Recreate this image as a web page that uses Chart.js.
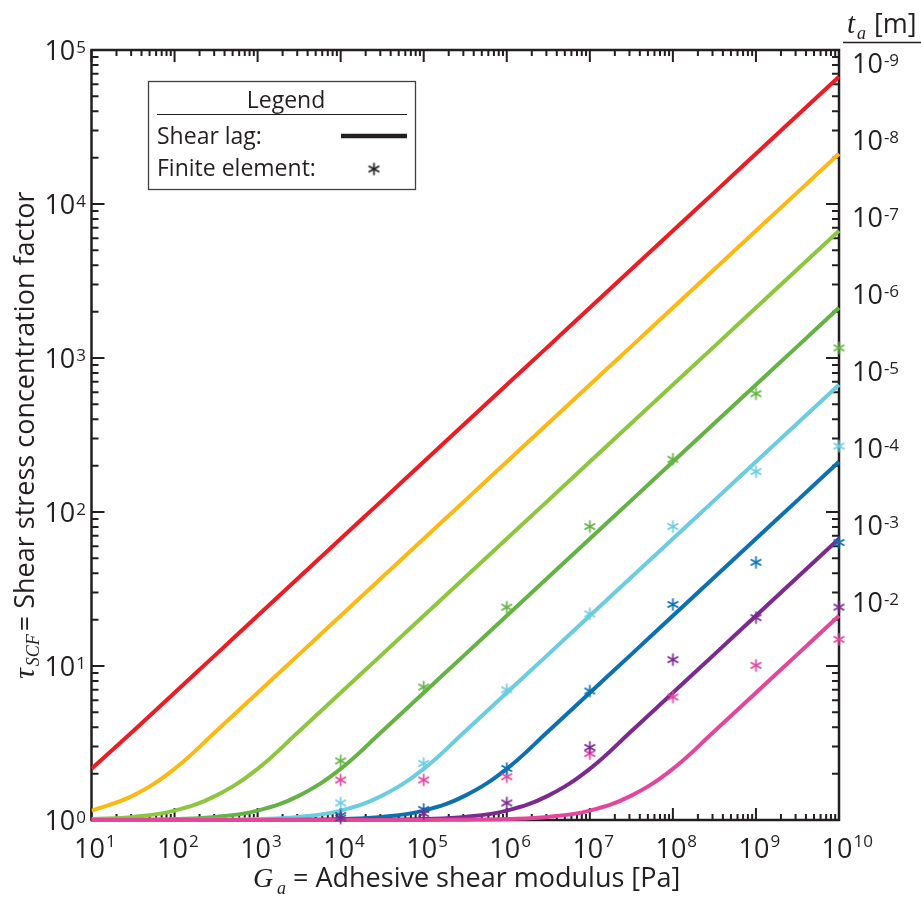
<!DOCTYPE html>
<html>
<head>
<meta charset="utf-8">
<title>Shear stress concentration factor</title>
<script src="https://cdn.jsdelivr.net/npm/chart.js@4.4.1/dist/chart.umd.min.js"></script>
<style>
  html, body { margin: 0; padding: 0; background: #fff; }
  #scf { display: block; }
</style>
</head>
<body>
<canvas id="scf" width="921" height="897"></canvas>
<script>
// --- data ---------------------------------------------------------------

// adhesive shear modulus G_a [Pa], half-decade steps (last point runs just past 1e10)
const gA = [1e1, 3.16e1, 1e2, 3.16e2, 1e3, 3.16e3, 1e4, 3.16e4, 1e5, 3.16e5,
            1e6, 3.16e6, 1e7, 3.16e7, 1e8, 3.16e8, 1e9, 3.16e9, 1e10, 1.2e10];

// shear lag curves, one per adhesive thickness t_a
const slT9 = [2.15, 3.77, 6.7, 11.9, 21.2, 37.7, 67, 119, 212, 377, 670, 1190, 2120, 3770, 6700, 11900, 21200, 37700, 67000, 73400];
const slT8 = [1.15, 1.44, 2.15, 3.77, 6.7, 11.9, 21.2, 37.7, 67, 119, 212, 377, 670, 1190, 2120, 3770, 6700, 11900, 21200, 23200];
const slT7 = [1.015, 1.047, 1.15, 1.44, 2.15, 3.77, 6.7, 11.9, 21.2, 37.7, 67, 119, 212, 377, 670, 1190, 2120, 3770, 6700, 7340];
const slT6 = [1.0015, 1.005, 1.015, 1.047, 1.15, 1.44, 2.15, 3.77, 6.7, 11.9, 21.2, 37.7, 67, 119, 212, 377, 670, 1190, 2120, 2320];
const slT5 = [1, 1, 1.0015, 1.005, 1.015, 1.047, 1.15, 1.44, 2.15, 3.77, 6.7, 11.9, 21.2, 37.7, 67, 119, 212, 377, 670, 734];
const slT4 = [1, 1, 1, 1, 1.0015, 1.005, 1.015, 1.047, 1.15, 1.44, 2.15, 3.77, 6.7, 11.9, 21.2, 37.7, 67, 119, 212, 232];
const slT3 = [1, 1, 1, 1, 1, 1, 1.0015, 1.005, 1.015, 1.047, 1.15, 1.44, 2.15, 3.77, 6.7, 11.9, 21.2, 37.7, 67, 73.4];
const slT2 = [1, 1, 1, 1, 1, 1, 1, 1, 1.0015, 1.005, 1.015, 1.047, 1.15, 1.44, 2.15, 3.77, 6.7, 11.9, 21.2, 23.2];

// finite element results
const feG = [1e4, 1e5, 1e6, 1e7, 1e8, 1e9, 1e10];
const feT6 = [2.42, 7.3, 24.1, 80.5, 220, 586, 1163];
const feT5 = [1.29, 2.33, 7.0, 21.8, 80.5, 183, 268];
const feT4 = [1.07, 1.17, 2.16, 6.88, 25.1, 47.1, 63.4];
const feT3 = [1.03, 1.10, 1.29, 2.96, 11.0, 20.6, 24.1];
const feT2 = [1.82, 1.82, 1.91, 2.70, 6.29, 10.1, 14.9];

// tick exponents
const xExp = [1, 2, 3, 4, 5, 6, 7, 8, 9, 10];
const yExp = [0, 1, 2, 3, 4, 5];
const tExp = ['-9', '-8', '-7', '-6', '-5', '-4', '-3', '-2'];

// --- styling -------------------------------------------------------------

const INK = '#231f20';
const SANS = '"Open Sans", "Noto Sans", sans-serif';
const SERIF = '"Liberation Serif", "DejaVu Serif", serif';

const curves = [
  { vals: slT9, color: '#ed1c24' },
  { vals: slT8, color: '#fdb913' },
  { vals: slT7, color: '#8dc63f' },
  { vals: slT6, color: '#65b345' },
  { vals: slT5, color: '#6ccde0' },
  { vals: slT4, color: '#0d71b0' },
  { vals: slT3, color: '#7b2b8e' },
  { vals: slT2, color: '#e2479b' },
];

const feSets = [
  { vals: feT3, color: '#7b2b8e' },
  { vals: feT6, color: '#65b345' },
  { vals: feT5, color: '#6ccde0' },
  { vals: feT4, color: '#0d71b0' },
  { vals: feT2, color: '#e2479b' },
];

// six-armed asterisk marker
function asterisk(color) {
  const c = document.createElement('canvas');
  c.width = c.height = 15;
  const g = c.getContext('2d');
  g.strokeStyle = color;
  g.lineWidth = 1.7;
  const r = 6.2;
  [90, 30, -30].forEach(a => {
    const t = a * Math.PI / 180;
    g.beginPath();
    g.moveTo(7.5 - r * Math.cos(t), 7.5 - r * Math.sin(t));
    g.lineTo(7.5 + r * Math.cos(t), 7.5 + r * Math.sin(t));
    g.stroke();
  });
  return c;
}

const datasets = [];
curves.forEach((c, i) => {
  datasets.push({
    data: gA.map((g, j) => ({ x: g, y: c.vals[j] })),
    borderColor: c.color,
    borderWidth: 4,
    pointRadius: 0,
    tension: 0.4,
    clip: { left: 0, top: 0, right: 10, bottom: 5 },
    order: curves.length - i + 1,
  });
});
feSets.forEach(f => {
  datasets.push({
    data: feG.map((g, j) => ({ x: g, y: f.vals[j] })),
    showLine: false,
    pointStyle: asterisk(f.color),
    clip: 10,
    order: 0,
  });
});

// --- helpers for the frame ---------------------------------------------------

function minors(lo, hi) {
  const out = [];
  for (let e = lo; e < hi; e++) for (let m = 2; m <= 9; m++) out.push(m * Math.pow(10, e));
  return out;
}

function text(ctx, s, x, y, font, align) {
  ctx.font = font;
  ctx.textAlign = align || 'left';
  ctx.textBaseline = 'alphabetic';
  ctx.fillText(s, x, y);
  return ctx.measureText(s).width;
}

const frame = {
  id: 'frame',
  beforeDatasetsDraw(chart) {
    const { ctx, chartArea: a, scales: { x, y } } = chart;
    ctx.save();
    ctx.strokeStyle = INK;
    ctx.lineWidth = 2.5;
    ctx.strokeRect(a.left, a.top, a.right - a.left, a.bottom - a.top);

    ctx.lineWidth = 2;
    ctx.beginPath();
    const tick = (px, len, horiz) => {
      if (horiz) {
        ctx.moveTo(px, a.bottom); ctx.lineTo(px, a.bottom - len);
        ctx.moveTo(px, a.top); ctx.lineTo(px, a.top + len);
      } else {
        ctx.moveTo(a.left, px); ctx.lineTo(a.left + len, px);
        ctx.moveTo(a.right, px); ctx.lineTo(a.right - len, px);
      }
    };
    xExp.forEach(e => tick(x.getPixelForValue(Math.pow(10, e)), 12, true));
    minors(1, 10).forEach(v => tick(x.getPixelForValue(v), 6, true));
    yExp.forEach(e => tick(y.getPixelForValue(Math.pow(10, e)), 13, false));
    minors(0, 5).forEach(v => tick(y.getPixelForValue(v), 7, false));
    ctx.stroke();
    ctx.restore();
  },
  afterDraw(chart) {
    const { ctx, chartArea: a, scales: { x, y } } = chart;
    ctx.save();
    ctx.fillStyle = INK;
    const big = '27px ' + SANS, small = '17px ' + SANS;

    // x tick labels
    xExp.forEach(e => {
      const px = x.getPixelForValue(Math.pow(10, e));
      ctx.font = big;
      const w = ctx.measureText('10').width;
      text(ctx, '10', px - 2, 858, big, 'center');
      text(ctx, String(e), px - 2 + w / 2 + 1, 847, small);
    });

    // y tick labels
    yExp.forEach(e => {
      const py = y.getPixelForValue(Math.pow(10, e));
      ctx.font = small;
      const we = ctx.measureText(String(e)).width;
      text(ctx, '10', 86 - we - 1, py + 9.6, big, 'right');
      text(ctx, String(e), 86 - we, py + 2.5, small);
    });

    // t_a labels at the end of each curve
    curves.forEach((c, i) => {
      const py = y.getPixelForValue(c.vals[18]) - 4;
      const w = text(ctx, '10', 852, py, big);
      text(ctx, tExp[i], 852 + w + 1, py - 7.2, small);
    });

    // right-hand title  t_a [m]
    text(ctx, 't', 847, 33, 'italic 29px ' + SERIF);
    text(ctx, 'a', 857, 39, 'italic 18px ' + SERIF);
    text(ctx, '[m]', 874, 33, big);
    ctx.strokeStyle = INK;
    ctx.lineWidth = 1.5;
    ctx.beginPath(); ctx.moveTo(843, 42.5); ctx.lineTo(921, 42.5); ctx.stroke();

    // x axis title
    text(ctx, 'G', 253, 887, 'italic 28px ' + SERIF);
    text(ctx, 'a', 277, 894, 'italic 18px ' + SERIF);
    text(ctx, '= Adhesive shear modulus [Pa]', 293, 887, big);

    // y axis title
    ctx.save();
    ctx.translate(34, 679);
    ctx.rotate(-Math.PI / 2);
    const wt = text(ctx, '\u03c4', 0, 0, 'italic 30px ' + SERIF);
    const ws = text(ctx, 'SCF', wt + 2, 5, 'italic 18px ' + SERIF);
    text(ctx, '= Shear stress concentration factor', wt + ws + 5, 0, big);
    ctx.restore();

    // legend box
    const lg = '23px ' + SANS;
    ctx.strokeStyle = '#404040';
    ctx.lineWidth = 1.3;
    ctx.strokeRect(148.5, 81.5, 267, 108);
    text(ctx, 'Legend', 286, 108, lg, 'center');
    ctx.strokeStyle = INK;
    ctx.lineWidth = 1.2;
    ctx.beginPath(); ctx.moveTo(157, 114.5); ctx.lineTo(407, 114.5); ctx.stroke();
    text(ctx, 'Shear lag:', 157, 144, lg);
    ctx.lineWidth = 4.5;
    ctx.beginPath(); ctx.moveTo(341, 136); ctx.lineTo(407, 136); ctx.stroke();
    text(ctx, 'Finite element:', 157, 176, lg);
    ctx.drawImage(asterisk(INK), 374 - 7.5, 169 - 7.5);

    ctx.restore();
  }
};

new Chart(document.getElementById('scf'), {
  type: 'line',
  data: { datasets },
  options: {
    responsive: false,
    devicePixelRatio: 1,
    animation: false,
    events: [],
    layout: { padding: { left: 91.5, top: 50, right: 82, bottom: 77 } },
    plugins: { legend: { display: false }, tooltip: { enabled: false } },
    scales: {
      x: { type: 'logarithmic', min: 10, max: 1e10, display: false },
      y: { type: 'logarithmic', min: 1, max: 1e5, display: false },
    },
  },
  plugins: [frame],
});
</script>
</body>
</html>
